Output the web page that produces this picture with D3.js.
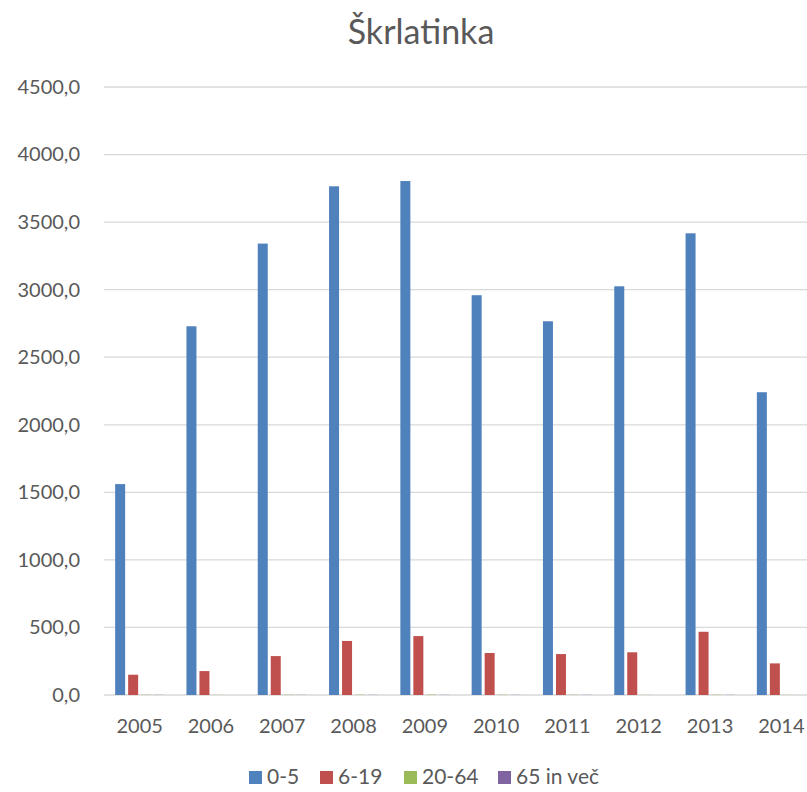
<!DOCTYPE html>
<html lang="sl">
<head>
<meta charset="utf-8">
<script src="https://cdn.jsdelivr.net/npm/d3@7"></script>
<style>
  body { margin: 0; background: #fff; }
  .axis text { font-family: Lato, "Open Sans", sans-serif; fill: #595959; }
</style>
</head>
<body>
<script>
const years = ["2005", "2006", "2007", "2008", "2009", "2010", "2011", "2012", "2013", "2014"];
const seriesNames = ["0-5", "6-19", "20-64", "65 in več"];
const v0_5 = [1561, 2729, 3341, 3765, 3804, 2959, 2766, 3025, 3417, 2241];
const v6_19 = [150, 177, 288, 400, 436, 311, 303, 316, 468, 234];
const v20_64 = [2, 1, 2, 2, 3, 2, 2, 1, 2, 1];
const v65 = [1, 0, 1, 1, 1, 1, 1, 0, 1, 0];
const yTicks = [0, 500, 1000, 1500, 2000, 2500, 3000, 3500, 4000, 4500];
const colors = ["#4F81BD", "#C0504D", "#9BBB59", "#8064A2"];

const w = 807, h = 792;
const svg = d3.select("body").append("svg").attr("width", w).attr("height", h);

const allSeries = [v0_5, v6_19, v20_64, v65];
const rows = years.map((y, i) => ({ year: y, vals: allSeries.map((s, k) => ({ name: seriesNames[k], value: s[i], k: k })) }));

let x0 = d3.scaleBand().domain(years).range([104, 817]);
let x1 = d3.scaleBand().domain(seriesNames).range([0, 49]).paddingInner(3 / 13);
let yScale = d3.scaleLinear().domain([0, 4500]).range([695, 87]);
let groupOffset = (x0.bandwidth() - 49) / 2;

// gridlines
svg.append("g")
  .selectAll("line")
  .data(yTicks)
  .enter()
  .append("line")
  .attr("x1", 104)
  .attr("x2", 817)
  .attr("y1", d => yScale(d))
  .attr("y2", d => yScale(d))
  .attr("stroke", "#d9d9d9")
  .attr("stroke-width", 1.3);

// bars
svg.append("g")
  .selectAll("g")
  .data(rows)
  .enter()
  .append("g")
  .attr("transform", d => "translate(" + (x0(d.year) + groupOffset) + ",0)")
  .selectAll("rect")
  .data(d => d.vals)
  .enter()
  .append("rect")
  .attr("x", d => x1(d.name))
  .attr("width", x1.bandwidth())
  .attr("y", d => yScale(d.value))
  .attr("height", d => yScale(0) - yScale(d.value))
  .attr("fill", d => colors[d.k]);

// y axis labels
let yAxis = d3.axisLeft(yScale).tickValues(yTicks).tickSize(0).tickPadding(0)
  .tickFormat(d => d3.format(".1f")(d).replace(".", ","));
svg.append("g")
  .attr("class", "axis")
  .attr("transform", "translate(80,0)")
  .call(yAxis)
  .call(g => g.select(".domain").remove())
  .selectAll("text")
  .attr("font-size", "20px");

// x axis labels
let xAxis = d3.axisBottom(x0).tickSize(0).tickPadding(0);
svg.append("g")
  .attr("class", "axis")
  .attr("transform", "translate(0,719)")
  .call(xAxis)
  .call(g => g.select(".domain").remove())
  .selectAll("text")
  .attr("font-size", "20px");

// title
svg.append("text")
  .attr("x", 421)
  .attr("y", 44)
  .attr("text-anchor", "middle")
  .attr("font-family", "Lato, 'Open Sans', sans-serif")
  .attr("font-size", "34px")
  .attr("fill", "#595959")
  .text("Škrlatinka");

// legend
const legendX = [249, 320, 404, 498];
let legend = svg.append("g")
  .selectAll("g")
  .data(seriesNames)
  .enter()
  .append("g")
  .attr("transform", (d, i) => "translate(" + legendX[i] + ",771)");
legend.append("rect")
  .attr("width", 13)
  .attr("height", 13)
  .attr("fill", (d, i) => colors[i]);
legend.append("text")
  .attr("x", 18)
  .attr("y", 13)
  .attr("font-family", "Lato, 'Open Sans', sans-serif")
  .attr("font-size", "21px")
  .attr("fill", "#595959")
  .text(d => d);
</script>
</body>
</html>
